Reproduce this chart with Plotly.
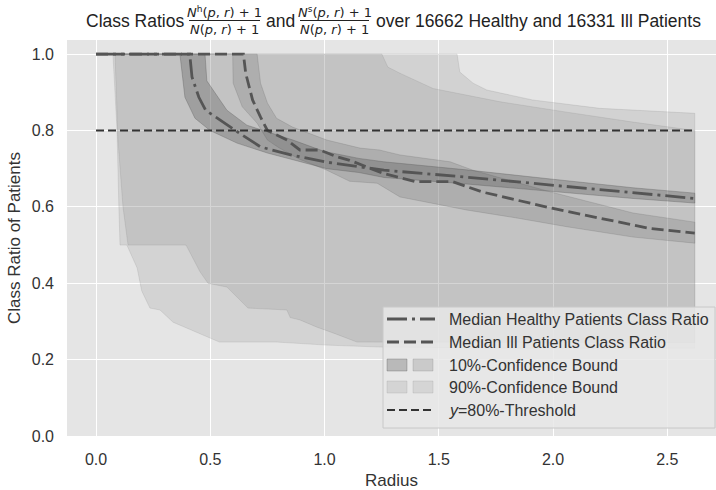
import plotly.graph_objects as go

# ---------------- data ----------------
healthy_median_r = [0.0, 0.41, 0.42, 0.45, 0.48, 0.53, 0.62, 0.72, 0.86, 1.01, 1.16, 1.26, 1.62, 1.99, 2.35, 2.62]
healthy_median = [1.0, 1.0, 0.94, 0.887, 0.853, 0.832, 0.796, 0.757, 0.735, 0.717, 0.705, 0.696, 0.678, 0.657, 0.636, 0.622]

ill_median_r = [0.0, 0.645, 0.655, 0.685, 0.72, 0.75, 0.836, 0.892, 0.98, 1.055, 1.11, 1.18, 1.255, 1.40, 1.56, 1.69, 1.99, 2.20, 2.42, 2.62]
ill_median = [1.0, 1.0, 0.95, 0.88, 0.835, 0.80, 0.775, 0.749, 0.749, 0.731, 0.722, 0.705, 0.688, 0.666, 0.666, 0.639, 0.597, 0.571, 0.544, 0.531]

healthy_10_upper_r = [0.0, 0.477, 0.485, 0.573, 0.66, 0.862, 1.0, 1.15, 1.26, 1.62, 1.99, 2.35, 2.62]
healthy_10_upper = [1.0, 1.0, 0.93, 0.853, 0.814, 0.775, 0.745, 0.727, 0.718, 0.697, 0.673, 0.65, 0.636]
healthy_10_lower_r = [0.0, 0.367, 0.389, 0.433, 0.499, 0.617, 0.75, 1.01, 1.15, 1.26, 1.62, 1.99, 2.35, 2.62]
healthy_10_lower = [1.0, 1.0, 0.887, 0.832, 0.80, 0.767, 0.741, 0.70, 0.69, 0.677, 0.66, 0.641, 0.622, 0.61]

ill_10_upper_r = [0.0, 0.705, 0.72, 0.75, 0.79, 0.86, 1.01, 1.155, 1.24, 1.33, 1.55, 1.65, 1.99, 2.35, 2.62]
ill_10_upper = [1.0, 1.0, 0.924, 0.872, 0.832, 0.809, 0.775, 0.754, 0.749, 0.736, 0.718, 0.696, 0.639, 0.584, 0.56]
ill_10_lower_r = [0.0, 0.598, 0.60, 0.64, 0.705, 0.75, 0.80, 0.89, 1.01, 1.11, 1.23, 1.33, 1.62, 1.84, 2.06, 2.35, 2.62]
ill_10_lower = [1.0, 1.0, 0.924, 0.862, 0.819, 0.775, 0.755, 0.725, 0.696, 0.667, 0.662, 0.626, 0.592, 0.571, 0.548, 0.521, 0.505]

healthy_90_upper_r = [0.0, 1.58, 1.592, 1.65, 1.71, 1.91, 2.205, 2.62]
healthy_90_upper = [1.0, 1.0, 0.953, 0.924, 0.906, 0.88, 0.858, 0.845]
healthy_90_lower_r = [0.0, 0.083, 0.096, 0.118, 0.14, 0.394, 0.455, 0.49, 0.573, 0.665, 0.835, 0.85, 0.892, 0.967, 1.037, 1.142, 1.242, 1.6, 2.0, 2.62]
healthy_90_lower = [1.0, 1.0, 0.775, 0.6, 0.5, 0.5, 0.43, 0.40, 0.39, 0.335, 0.33, 0.31, 0.304, 0.285, 0.27, 0.246, 0.246, 0.245, 0.245, 0.245]

ill_90_upper_r = [0.0, 1.251, 1.277, 1.33, 1.475, 1.77, 2.06, 2.35, 2.62]
ill_90_upper = [1.0, 1.0, 0.966, 0.95, 0.91, 0.875, 0.848, 0.822, 0.80]
ill_90_lower_r = [0.0, 0.074, 0.092, 0.10, 0.105, 0.135, 0.18, 0.20, 0.236, 0.28, 0.337, 0.398, 0.486, 0.54, 0.79, 1.01, 1.24, 1.8, 2.62]
ill_90_lower = [1.0, 1.0, 0.8, 0.6, 0.5, 0.5, 0.44, 0.38, 0.335, 0.33, 0.298, 0.283, 0.26, 0.246, 0.246, 0.238, 0.233, 0.23, 0.23]

threshold_r = [0.0, 2.62]
threshold = [0.8, 0.8]

x_ticks = [0.0, 0.5, 1.0, 1.5, 2.0, 2.5]
x_tick_labels = ["0.0", "0.5", "1.0", "1.5", "2.0", "2.5"]
y_ticks = [0.0, 0.2, 0.4, 0.6, 0.8, 1.0]
y_tick_labels = ["0.0", "0.2", "0.4", "0.6", "0.8", "1.0"]

legend_labels = ["Median Healthy Patients Class Ratio", "Median Ill Patients Class Ratio",
                 "10%-Confidence Bound", "90%-Confidence Bound", "<i>y</i>=80%-Threshold"]

# ---------------- styles ----------------
C90_H = "rgba(110,110,110,0.16)"
C90_I = "rgba(120,120,120,0.16)"
C10_H = "rgba(70,70,70,0.28)"
C10_I = "rgba(90,90,90,0.20)"
LINE_C = "#555555"
THR_C = "#333333"
DASHDOT = "20px,5px,3px,5px"
DASHED = "12px,5px"
THR_DASH = "8px,4px"
TEXT_FONT = "Liberation Sans, Arial, sans-serif"
MATH_FONT = "DejaVu Sans, sans-serif"

fig = go.Figure()


def band(r_up, y_up, r_lo, y_lo, color):
    fig.add_trace(go.Scatter(
        x=list(r_up) + list(r_lo)[::-1], y=list(y_up) + list(y_lo)[::-1],
        mode="lines", fill="toself", fillcolor=color,
        line=dict(color=color, width=1), hoverinfo="skip", showlegend=False))


band(healthy_90_upper_r, healthy_90_upper, healthy_90_lower_r, healthy_90_lower, C90_H)
band(ill_90_upper_r, ill_90_upper, ill_90_lower_r, ill_90_lower, C90_I)
band(healthy_10_upper_r, healthy_10_upper, healthy_10_lower_r, healthy_10_lower, C10_H)
band(ill_10_upper_r, ill_10_upper, ill_10_lower_r, ill_10_lower, C10_I)

fig.add_trace(go.Scatter(x=healthy_median_r, y=healthy_median, mode="lines",
                         line=dict(color=LINE_C, width=2.8, dash=DASHDOT), showlegend=False))
fig.add_trace(go.Scatter(x=ill_median_r, y=ill_median, mode="lines",
                         line=dict(color=LINE_C, width=2.8, dash=DASHED), showlegend=False))
fig.add_trace(go.Scatter(x=threshold_r, y=threshold, mode="lines",
                         line=dict(color=THR_C, width=2, dash=THR_DASH), showlegend=False))

# ---------------- layout helpers (pixel -> paper) ----------------
L, R, T, B = 67, 716, 40, 436


def px(v):
    return (v - L) / (R - L)


def py(v):
    return (B - v) / (B - T)


shapes = []
annotations = []

# title pieces
annotations.append(dict(text="Class Ratios", x=px(84), y=py(21), xanchor="left", yanchor="middle",
                        font=dict(family=TEXT_FONT, size=17.5, color="#222")))
annotations.append(dict(text="and", x=px(280), y=py(21), xanchor="center", yanchor="middle",
                        font=dict(family=TEXT_FONT, size=17.5, color="#222")))
annotations.append(dict(text="over 16662 Healthy and 16331 Ill Patients", x=px(374), y=py(21),
                        xanchor="left", yanchor="middle",
                        font=dict(family=TEXT_FONT, size=17.5, color="#222")))
for cx, sup, x0, x1 in [(224.5, "h", 189, 260), (334.5, "s", 300, 369)]:
    annotations.append(dict(text="<i>N</i><sup>%s</sup>(<i>p</i>, <i>r</i>) + 1" % sup,
                            x=px(cx), y=py(12), xanchor="center", yanchor="middle",
                            font=dict(family=MATH_FONT, size=13, color="#222")))
    annotations.append(dict(text="<i>N</i>(<i>p</i>, <i>r</i>) + 1",
                            x=px(cx), y=py(29.5), xanchor="center", yanchor="middle",
                            font=dict(family=MATH_FONT, size=13, color="#222")))
    shapes.append(dict(type="line", xref="paper", yref="paper", x0=px(x0), x1=px(x1),
                       y0=py(20.5), y1=py(20.5), line=dict(color="#222", width=1)))

# legend box
shapes.append(dict(type="rect", xref="paper", yref="paper", x0=px(383), x1=px(715),
                   y0=py(428), y1=py(307), fillcolor="rgba(232,232,232,0.85)",
                   line=dict(color="rgba(200,200,200,1)", width=1), layer="above"))
rows = [319, 342, 365, 387, 410]
hx0, hx1 = 387, 433
shapes.append(dict(type="line", xref="paper", yref="paper", x0=px(hx0), x1=px(hx1 + 2), y0=py(rows[0]), y1=py(rows[0]),
                   line=dict(color=LINE_C, width=2.8, dash=DASHDOT)))
shapes.append(dict(type="line", xref="paper", yref="paper", x0=px(hx0), x1=px(hx1), y0=py(rows[1]), y1=py(rows[1]),
                   line=dict(color=LINE_C, width=2.8, dash=DASHED)))
for row, (ca, cb) in [(rows[2], (C10_H, C10_I)), (rows[3], (C90_H, C90_I))]:
    for (a, b), c in [((387, 407), ca), ((413, 433), cb)]:
        shapes.append(dict(type="rect", xref="paper", yref="paper", x0=px(a), x1=px(b),
                           y0=py(row + 6), y1=py(row - 6), fillcolor=c, line=dict(color=c, width=1)))
shapes.append(dict(type="line", xref="paper", yref="paper", x0=px(hx0), x1=px(hx1), y0=py(rows[4]), y1=py(rows[4]),
                   line=dict(color=THR_C, width=2, dash=THR_DASH)))
for row, lab in zip(rows, legend_labels):
    annotations.append(dict(text=lab, x=px(447), y=py(row), xanchor="left", yanchor="middle",
                            font=dict(family=TEXT_FONT, size=16, color="#333")))

for a in annotations:
    a.update(xref="paper", yref="paper", showarrow=False)

fig.update_layout(
    width=716, height=490,
    margin=dict(l=L, r=716 - R, t=T, b=490 - B),
    paper_bgcolor="white", plot_bgcolor="#E5E5E5",
    showlegend=False,
    font=dict(family=TEXT_FONT, color="#333"),
    shapes=shapes, annotations=annotations,
    xaxis=dict(range=[-0.127, 2.713], tickvals=x_ticks, ticktext=x_tick_labels,
               showgrid=True, gridcolor="white", gridwidth=1.3, zeroline=False, showline=False,
               ticks="", ticklabelstandoff=12, tickfont=dict(size=16, color="#333"),
               title=dict(text="Radius", font=dict(size=17, color="#333"), standoff=7)),
    yaxis=dict(range=[0, 1.037], tickvals=y_ticks, ticktext=y_tick_labels,
               showgrid=True, gridcolor="white", gridwidth=1.3, zeroline=False, showline=False,
               ticks="", ticklabelstandoff=12, tickfont=dict(size=16, color="#333"),
               title=dict(text="Class Ratio of Patients", font=dict(size=17, color="#333"), standoff=6)),
)

fig.write_html("out.html")
